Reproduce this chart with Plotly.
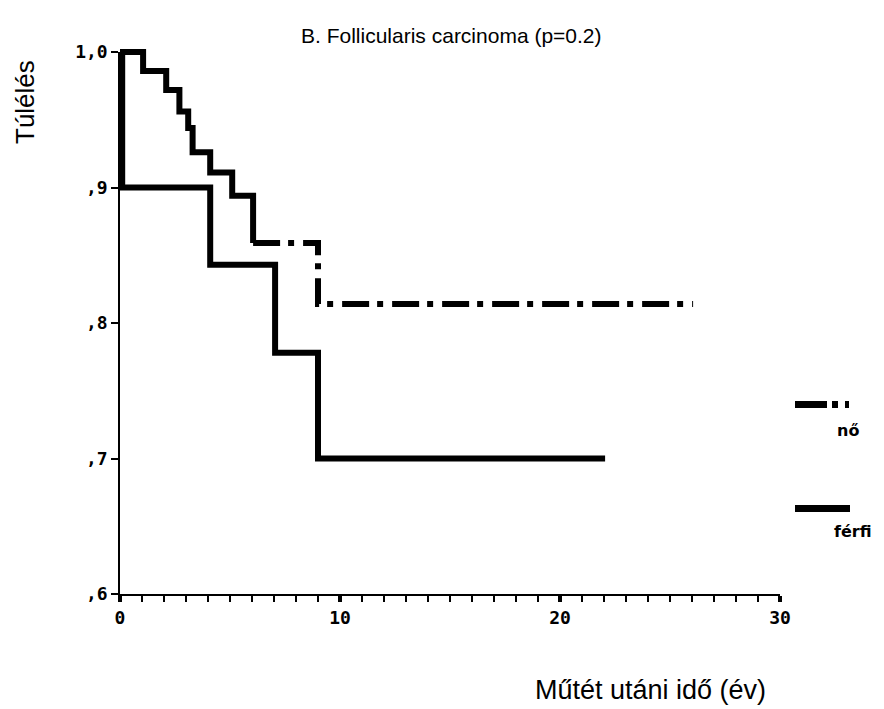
import plotly.graph_objects as go

# ---------------- data ----------------
female_t = [0, 1.05, 2.1, 2.7, 3.1, 3.3, 4.1, 5.1, 6.05, 9.0, 26.05]
female_s = [1.0, 0.986, 0.972, 0.956, 0.944, 0.926, 0.911, 0.894, 0.859, 0.814, 0.814]
male_t = [0, 0.1, 4.1, 7.05, 9.0, 22.05]
male_s = [1.0, 0.9, 0.843, 0.778, 0.700, 0.700]
female_solid_until = 8   # early part of the female curve is drawn unbroken

x_tickvals = [0, 10, 20, 30]
x_ticktext = ["0", "10", "20", "30"]
y_tickvals = [0.6, 0.7, 0.8, 0.9, 1.0]
y_ticktext = [",6", ",7", ",8", ",9", "1,0"]

title_text = "B. Follicularis carcinoma (p=0.2)"
ytitle_text = "Túlélés"
xtitle_text = "Műtét utáni idő (év)"
legend_labels = ["nő", "férfi"]

# ---------------- geometry ----------------
W, H = 884, 709
ML, MR, MT, MB = 100, 84, 32, 95
PW, PH = W - ML - MR, H - MT - MB
X0PX, X30PX = 120, 780      # pixel of x=0 and x=30
Y1PX, Y06PX = 52, 594       # pixel of y=1.0 and y=0.6
kx = (X30PX - X0PX) / 30.0
ky = (Y06PX - Y1PX) / 0.4


def px_x(p):
    return (p - ML) / PW


def px_y(p):
    return (MT + PH - p) / PH


data_xrange = [(ML - X0PX) / kx, (ML + PW - X0PX) / kx]
data_yrange = [0.6 - (MT + PH - Y06PX) / ky, 1.0 + (Y1PX - MT) / ky]

fig = go.Figure()

# invisible trace to keep the visible axes
fig.add_trace(go.Scatter(x=[0, 30], y=[0.6, 1.0], mode="markers",
                         marker=dict(opacity=0), hoverinfo="skip",
                         showlegend=False, xaxis="x", yaxis="y"))

k = female_solid_until
fig.add_trace(go.Scatter(x=female_t[:k + 1], y=female_s[:k + 1], mode="lines",
                         line_shape="hv", line=dict(color="black", width=6),
                         name=legend_labels[0], showlegend=False,
                         xaxis="x2", yaxis="y2"))
fig.add_trace(go.Scatter(x=female_t[k:], y=female_s[k:], mode="lines", line_shape="hv",
                         line=dict(color="black", width=6, dash="27px,8px,6px,9px"),
                         name=legend_labels[0], showlegend=False,
                         xaxis="x2", yaxis="y2"))
fig.add_trace(go.Scatter(x=male_t, y=male_s, mode="lines", line_shape="hv",
                         line=dict(color="black", width=6),
                         name=legend_labels[1], showlegend=False,
                         xaxis="x2", yaxis="y2"))

tickfont = dict(family="DejaVu Sans Mono", size=18, color="black", weight="bold")

fig.update_layout(
    width=W, height=H,
    margin=dict(l=ML, r=MR, t=MT, b=MB, pad=0),
    paper_bgcolor="white", plot_bgcolor="rgba(0,0,0,0)",
    showlegend=False,
    xaxis=dict(domain=[px_x(X0PX), px_x(X30PX)], range=[0, 30], anchor="y",
               showgrid=False, zeroline=False, showline=True, linecolor="black",
               linewidth=2, ticks="outside", ticklen=6, tickwidth=4, tickcolor="black",
               tickvals=x_tickvals, ticktext=x_ticktext, tickfont=tickfont,
               ticklabelstandoff=0,
               minor=dict(dtick=1, tick0=0, ticks="outside", ticklen=6,
                          tickwidth=1.5, tickcolor="black", showgrid=False)),
    yaxis=dict(domain=[px_y(Y06PX), px_y(Y1PX)], range=[0.6, 1.0], anchor="x",
               showgrid=False, zeroline=False, showline=True, linecolor="black",
               linewidth=1.5, ticks="outside", ticklen=7, tickwidth=2, tickcolor="black",
               tickvals=y_tickvals, ticktext=y_ticktext, tickfont=tickfont),
    xaxis2=dict(domain=[0, 1], range=data_xrange, anchor="y2",
                visible=False, showgrid=False, zeroline=False),
    yaxis2=dict(domain=[0, 1], range=data_yrange, anchor="x2",
                visible=False, showgrid=False, zeroline=False),
)

# titles
fig.add_annotation(text=title_text, xref="paper", yref="paper",
                   x=px_x(451), y=px_y(36), xanchor="center", yanchor="middle",
                   showarrow=False,
                   font=dict(family="Liberation Sans", size=21, color="black"))
fig.add_annotation(text=ytitle_text, xref="paper", yref="paper",
                   x=px_x(25), y=px_y(102), xanchor="center", yanchor="middle",
                   textangle=-90, showarrow=False,
                   font=dict(family="Liberation Sans", size=26, color="black"))
fig.add_annotation(text=xtitle_text, xref="paper", yref="paper",
                   x=px_x(650), y=px_y(690), xanchor="center", yanchor="middle",
                   showarrow=False,
                   font=dict(family="Liberation Sans", size=27, color="black"))

# legend (manual)
leg_font = dict(family="DejaVu Sans", size=16, color="black", weight="bold")
for x0, x1 in [(795, 827), (832, 838), (845, 849)]:
    fig.add_shape(type="rect", xref="paper", yref="paper",
                  x0=px_x(x0), x1=px_x(x1), y0=px_y(408), y1=px_y(401),
                  fillcolor="black", line=dict(width=0))
fig.add_shape(type="rect", xref="paper", yref="paper",
              x0=px_x(795), x1=px_x(850), y0=px_y(512), y1=px_y(505),
              fillcolor="black", line=dict(width=0))
fig.add_annotation(text=legend_labels[0], xref="paper", yref="paper",
                   x=px_x(835), y=px_y(430), xanchor="left", yanchor="middle",
                   showarrow=False, font=leg_font)
fig.add_annotation(text=legend_labels[1], xref="paper", yref="paper",
                   x=px_x(832), y=px_y(531), xanchor="left", yanchor="middle",
                   showarrow=False, font=leg_font)

fig.write_html("out.html")
